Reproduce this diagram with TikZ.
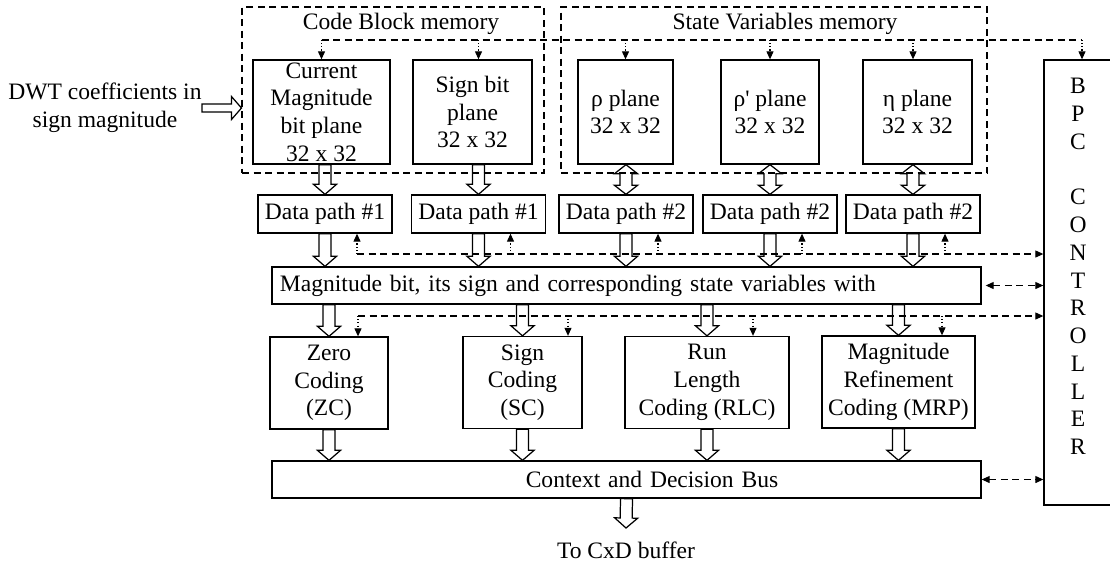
\documentclass[tikz,border=0pt]{standalone}
\usepackage{fontspec}
\setmainfont{Liberation Serif}
\usetikzlibrary{arrows.meta,calc}

\begin{document}
\begin{tikzpicture}[x=0.2mm, y=-0.2mm, font=\fontsize{13.4}{15.8}\selectfont,
	>={Triangle[length=1.6mm,width=1.4mm]},
	blk/.style={draw, line width=0.75pt, inner sep=0pt, align=center},
	memblk/.style={blk, minimum height=20.8mm},
	dpblk/.style={blk, minimum width=26.8mm, minimum height=7.6mm},
	codeblk/.style={blk, minimum height=18.4mm},
	busblk/.style={blk, minimum width=141.8mm, minimum height=7.4mm, inner xsep=1.6mm, text width=138.6mm},
	memgroup/.style={draw, line width=0.6pt, dash pattern=on 1.4mm off 0.9mm, minimum height=33.2mm},
	bus/.style={line width=0.6pt, dash pattern=on 1.4mm off 0.9mm},
	tap/.style={line width=0.6pt, dash pattern=on 0.6pt off 1.2pt, ->},
	hshaft/.store in=\hshaft, hshaft=1.2mm,
	% fat outlined arrow, one head
	hollow/.style={line width=0.7pt, to path={let \p1=(\tikztostart), \p2=(\tikztotarget), \p3=($(\p2)!2mm!(\p1)$) in
		($(\p1)!\hshaft!90:(\p2)$) -- ($(\p3)!\hshaft!90:(\p2)$) -- ($(\p3)!2.3mm!90:(\p2)$) -- (\p2)
		-- ($(\p3)!2.3mm!-90:(\p2)$) -- ($(\p3)!\hshaft!-90:(\p2)$) -- ($(\p1)!\hshaft!-90:(\p2)$) -- cycle}},
	% fat outlined arrow, two heads
	hollowboth/.style={line width=0.7pt, to path={let \p1=(\tikztostart), \p2=(\tikztotarget), \p3=($(\p1)!1.8mm!(\p2)$), \p4=($(\p2)!1.8mm!(\p1)$) in
		(\p1) -- ($(\p3)!2.3mm!90:(\p2)$) -- ($(\p3)!\hshaft!90:(\p2)$) -- ($(\p4)!\hshaft!90:(\p2)$) -- ($(\p4)!2.3mm!90:(\p2)$) -- (\p2)
		-- ($(\p4)!2.3mm!-90:(\p2)$) -- ($(\p4)!\hshaft!-90:(\p2)$) -- ($(\p3)!\hshaft!-90:(\p2)$) -- ($(\p3)!2.3mm!-90:(\p2)$) -- cycle}}]
	\useasboundingbox (0,0) rectangle (1110,563);

	% input
	\draw (105,108) node[align=center, inner sep=0pt] (dwt) {DWT coefficients in\\sign magnitude};

	% memories
	\draw (393,90) node[memgroup, minimum width=60.4mm] (cbm) {};
	\draw (774,90) node[memgroup, minimum width=85.2mm] (svm) {};
	\draw (401,24) node (cbmtitle) {Code Block memory};
	\draw (785,24) node (svmtitle) {State Variables memory};
	\draw (321.5,112) node[memblk, minimum width=27.4mm] (cur) {Current\\Magnitude\\bit plane\\32 x 32};
	\draw (472.5,112) node[memblk, minimum width=23.8mm] (sgn) {Sign bit\\plane\\32 x 32};
	\draw (625.5,112) node[memblk, minimum width=19mm] (rho) {ρ plane\\32 x 32};
	\draw (770,112) node[memblk, minimum width=19.6mm] (rhop) {ρ\textquotesingle{} plane\\32 x 32};
	\draw (917.5,112) node[memblk, minimum width=21.8mm] (eta) {η plane\\32 x 32};

	% controller
	\draw (1078,282.5) node[blk, minimum width=13.6mm, minimum height=89mm] (bpc) {};
	\draw (1078,266.5) node[align=center, inner sep=0pt] (bpctext) {B\\P\\C\\{}\\C\\O\\N\\T\\R\\O\\L\\L\\E\\R};

	% data paths
	\draw (325,214) node[dpblk] (dp1) {Data path \#1};
	\draw (478.5,214) node[dpblk] (dp2) {Data path \#1};
	\draw (626,214) node[dpblk] (dp3) {Data path \#2};
	\draw (770,214) node[dpblk] (dp4) {Data path \#2};
	\draw (913,214) node[dpblk] (dp5) {Data path \#2};

	\draw (626.5,285.5) node[busblk, align=left] (mag) {Magnitude bit, its sign and corresponding state variables with};

	% coding passes
	\draw (329,383) node[codeblk, minimum width=23.6mm] (zc) {Zero\\Coding\\(ZC)};
	\draw (522.5,382.5) node[codeblk, minimum width=23.8mm] (sgc) {Sign\\Coding\\(SC)};
	\draw (707,382.5) node[codeblk, minimum width=32.8mm] (rlc) {Run\\Length\\Coding (RLC)};
	\draw (898.5,382) node[codeblk, minimum width=30.6mm] (mrp) {Magnitude\\Refinement\\Coding (MRP)};

	\draw (626.5,479.5) node[busblk] (ctx) {\hspace*{10.2mm}Context and Decision Bus};
	\draw (626,528) node[anchor=north, inner xsep=0pt, inner ysep=2.8mm] (buf) {To CxD buffer};

	% data flow
	\draw[hollow, hshaft=0.8mm] (dwt.east) to (dwt.east -| cbm.west);
	\draw[hollow] (cur.south -| dp1) to (dp1.north);
	\draw[hollow] (sgn.south -| dp2) to (dp2.north);
	\draw[hollowboth] (rho.south -| dp3) to (dp3.north);
	\draw[hollowboth] (rhop.south -| dp4) to (dp4.north);
	\draw[hollowboth] (eta.south -| dp5) to (dp5.north);
	\foreach \d in {dp1,dp2,dp3,dp4,dp5}
		\draw[hollow] (\d.south) to (\d.south |- mag.north);
	\foreach \c in {zc,sgc,rlc,mrp} {
		\draw[hollow] (\c.north |- mag.south) to (\c.north);
		\draw[hollow] (\c.south) to (\c.south |- ctx.north);
	}
	\draw[hollow] (ctx.south) to (buf.north);

	% control lines
	\coordinate (mbus) at (0,40);
	\coordinate (fbus) at (0,254);
	\coordinate (cbus) at (0,316);
	\coordinate (bpcin) at ([xshift=0.8mm]bpc.north);
	\draw[bus] (cur.north |- mbus) -- (bpcin |- mbus);
	\draw[tap] (cur.north |- mbus) -- (cur.north);
	\draw[tap] (dp2 |- mbus) -- (dp2 |- sgn.north);
	\draw[tap] (rho.north |- mbus) -- (rho.north);
	\draw[tap] (rhop.north |- mbus) -- (rhop.north);
	\draw[tap] (dp5 |- mbus) -- (dp5 |- eta.north);
	\draw[tap] (bpcin |- mbus) -- (bpcin);

	\foreach \d in {dp1,dp2,dp3,dp4,dp5}
		\coordinate (\d-fb) at ($(\d.south)+(32,0)$);
	\draw[bus, ->] (dp1-fb |- fbus) -- (fbus -| bpc.west);
	\foreach \d in {dp1,dp2,dp3,dp4,dp5}
		\draw[tap] (\d-fb |- fbus) -- (\d-fb);

	\foreach \c/\dx in {zc/29, sgc/45.5, rlc/46, mrp/43.5}
		\coordinate (\c-fd) at ($(\c.north)+(\dx,0)$);
	\draw[bus, ->] (zc-fd |- cbus) -- (cbus -| bpc.west);
	\foreach \c in {zc,sgc,rlc,mrp}
		\draw[tap] (\c-fd |- cbus) -- (\c-fd);

	\draw[bus, <->, shorten <=0.8mm] (mag.east) -- (mag.east -| bpc.west);
	\draw[bus, <->] (ctx.east) -- (ctx.east -| bpc.west);
\end{tikzpicture}
\end{document}
